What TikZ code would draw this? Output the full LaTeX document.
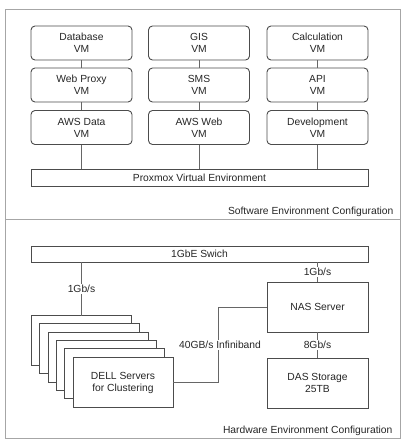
\documentclass[tikz,border=0pt]{standalone}
\usepackage{fontspec}
\setmainfont{Liberation Sans}
\begin{document}
\begin{tikzpicture}[x=1pt,y=-1pt,
  txt/.style={font=\fontsize{10.3}{12}\selectfont, text=black!85},
  vm/.style={txt, draw=black!70, line width=0.9pt, rounded corners=4pt, fill=white,
     minimum width=101pt, minimum height=34pt, align=center, inner sep=0pt},
  bar/.style={txt, draw=black!70, line width=0.9pt, fill=white,
     minimum width=337pt, inner sep=0pt, align=center},
  hw/.style={txt, draw=black!70, line width=0.9pt, fill=white,
     minimum width=101pt, minimum height=50pt, align=center, inner sep=0pt},
  srv/.style={draw=black!70, line width=0.9pt, fill=white},
  link/.style={draw=black!60, line width=0.8pt},
  lbl/.style={txt, fill=white, inner sep=1pt},
  frame/.style={draw=black!35, line width=1pt}
]
\useasboundingbox (0,0) rectangle (404,443);
% frames
\draw[frame] (5.5,9.5) rectangle (400.5,438);
\draw[frame] (5.5,219) -- (400.5,219);

% software
\node[vm] (db)  at (81.5,43)  {Database\\VM};
\node[vm] (wp)  at (81.5,85)  {Web Proxy\\VM};
\node[vm] (awd) at (81.5,127.5) {AWS Data\\VM};
\node[vm] (gis) at (199,43)  {GIS\\VM};
\node[vm] (sms) at (199,85)  {SMS\\VM};
\node[vm] (aww) at (199,127.5) {AWS Web\\VM};
\node[vm] (calc) at (317.5,43)  {Calculation\\VM};
\node[vm] (api)  at (317.5,85)  {API\\VM};
\node[vm] (dev)  at (317.5,127.5) {Development\\VM};
\node[bar, minimum height=17pt] (prox) at (199.5,177.5) {Proxmox Virtual Environment};

\draw[link] (db) -- (wp);  \draw[link] (wp) -- (awd);
\draw[link] (gis) -- (sms); \draw[link] (sms) -- (aww);
\draw[link] (calc) -- (api); \draw[link] (api) -- (dev);
\draw[link] (awd.south) -- (awd.south |- prox.north);
\draw[link] (aww.south) -- (aww.south |- prox.north);
\draw[link] (dev.south) -- (dev.south |- prox.north);

\node[txt, anchor=east] (swlbl) at (397,212) {Software Environment Configuration};

% hardware
\node[bar, minimum height=16pt] (sw) at (199.5,254) {1GbE Swich};
\foreach \i in {0,...,4} {
  \draw[srv] ({31.5+8.3*\i},{315.5+8.3*\i}) rectangle ++(100,50);
}
\node[hw, minimum width=100pt] (dell) at (123,382.5) {DELL Servers\\for Clustering};
\coordinate (back) at (81.5,315.5);
\node[hw] (nas) at (317.5,307) {NAS Server};
\node[hw] (das) at (317.5,383) {DAS Storage\\25TB};

\draw[link] (sw.south -| back) -- (back) node[lbl, pos=0.5] {1Gb/s};
\draw[link] (nas.north) -- (nas.north |- sw.south);
\node[lbl] at (317.5,272) {1Gb/s};
\draw[link] (nas) -- (das);
\node[lbl] at (317.5,345) {8Gb/s};
\draw[link] (dell.east) -- ++(45,0) coordinate (ib) |- (nas.west);
\node[lbl] at (220,345) {40GB/s Infiniband};

\node[txt, anchor=east] (hwlbl) at (396,431) {Hardware Environment Configuration};
\end{tikzpicture}
\end{document}
